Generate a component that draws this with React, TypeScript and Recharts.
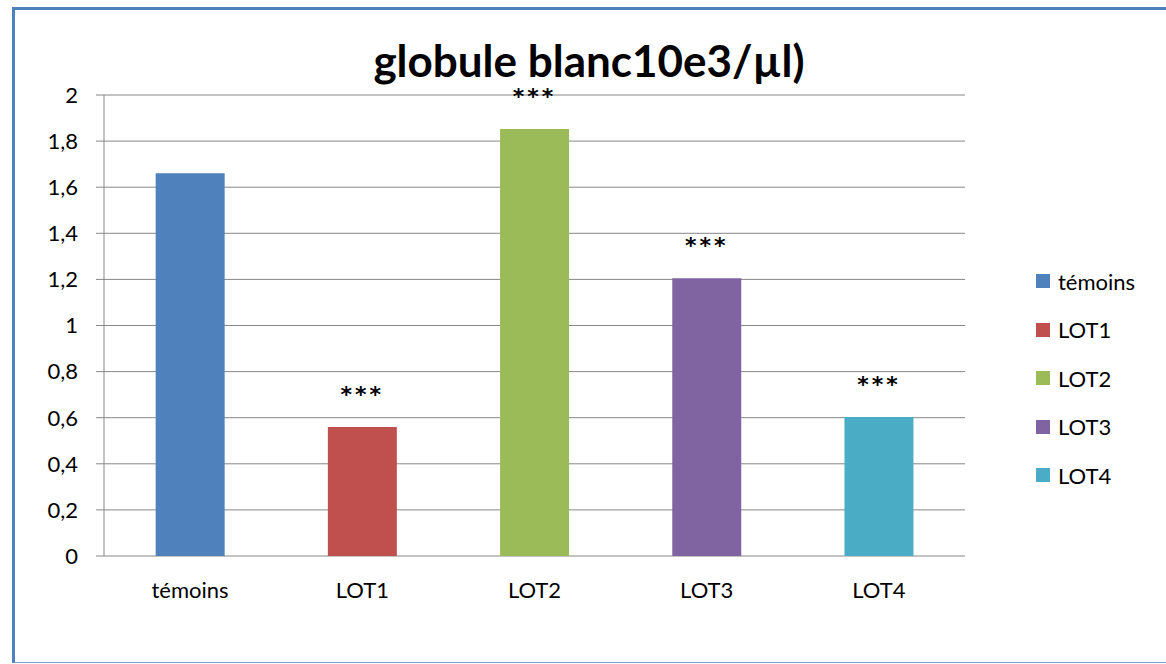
import { Bar, BarChart, CartesianGrid, Cell, LabelList, XAxis, YAxis } from 'recharts';

const categories = ['témoins', 'LOT1', 'LOT2', 'LOT3', 'LOT4'];
const values = [1.66, 0.56, 1.852, 1.205, 0.603];
const significance = ['', '***', '***', '***', '***'];
const yTicks = [0, 0.2, 0.4, 0.6, 0.8, 1, 1.2, 1.4, 1.6, 1.8, 2];
const edgeTicks = [0, 1, 2, 3, 4, 5];

const colors = ['#4F81BD', '#C0504D', '#9BBB59', '#8064A2', '#4BACC6'];
const font = 'Lato, "Liberation Sans", sans-serif';
const gridColor = '#878787';

const data = categories.map((name, i) => ({ name, value: values[i], sig: significance[i] }));

const fmt = (v: number) => (Number.isInteger(v) ? String(v) : v.toFixed(1).replace('.', ','));

export default function App() {
  return (
    <div
      style={{
        position: 'absolute',
        left: 0,
        top: 0,
        width: '1166px',
        height: '664px',
        overflow: 'hidden',
        background: '#FFFFFF',
        fontFamily: font,
      }}
    >
      <div
        style={{
          position: 'absolute',
          left: '12px',
          top: '7px',
          width: '1200px',
          height: '652px',
          borderLeft: '3px solid #4F81BD',
          borderTop: '3px solid #4F81BD',
          borderBottom: '1px solid #7E9DCB',
        }}
      />
      <div
        style={{
          position: 'absolute',
          left: 0,
          top: '38px',
          width: '1178px',
          textAlign: 'center',
          fontSize: '44px',
          fontWeight: 700,
          color: '#000000',
          lineHeight: '44px',
        }}
      >
        globule blanc10e3/µl)
      </div>

      <div style={{ position: 'absolute', left: 0, top: 0 }}>
        <BarChart width={1166} height={664} data={data} margin={{ top: 95, right: 201, bottom: 58, left: 44 }} barCategoryGap="30%">
          <CartesianGrid xAxisId="cat" vertical={false} stroke={gridColor} />
          <XAxis
            xAxisId="edges"
            type="number"
            domain={[0, 5]}
            ticks={edgeTicks}
            tick={false}
            tickSize={8}
            tickLine={{ stroke: gridColor }}
            axisLine={{ stroke: gridColor }}
            height={0}
          />
          <XAxis
            xAxisId="cat"
            dataKey="name"
            axisLine={false}
            tickLine={false}
            tickSize={0}
            tickMargin={26}
            height={50}
            tick={{ fontSize: 22, fill: '#000000', fontFamily: font }}
          />
          <YAxis
            domain={[0, 2]}
            ticks={yTicks}
            interval={0}
            width={60}
            tickSize={8}
            tickMargin={18}
            tickFormatter={fmt}
            tickLine={{ stroke: gridColor }}
            axisLine={{ stroke: gridColor }}
            tick={{ fontSize: 22, fill: '#000000', fontFamily: font }}
          />
          <Bar xAxisId="cat" dataKey="value" isAnimationActive={false}>
            {data.map((d, i) => (
              <Cell key={d.name} fill={colors[i]} />
            ))}
            <LabelList
              dataKey="sig"
              position="top"
              offset={25}
              fill="#000000"
              fontSize={22}
              fontWeight={700}
              fontFamily='"DejaVu Sans", sans-serif'
              letterSpacing={3}
            />
          </Bar>
        </BarChart>
      </div>

      <div style={{ position: 'absolute', left: '1036px', top: '257px' }}>
        {categories.map((name, i) => (
          <div key={name} style={{ display: 'flex', alignItems: 'center', height: '48.5px' }}>
            <span style={{ width: '14px', height: '14px', background: colors[i], marginRight: '8px' }} />
            <span style={{ fontSize: '22px', color: '#000000' }}>{name}</span>
          </div>
        ))}
      </div>
    </div>
  );
}
